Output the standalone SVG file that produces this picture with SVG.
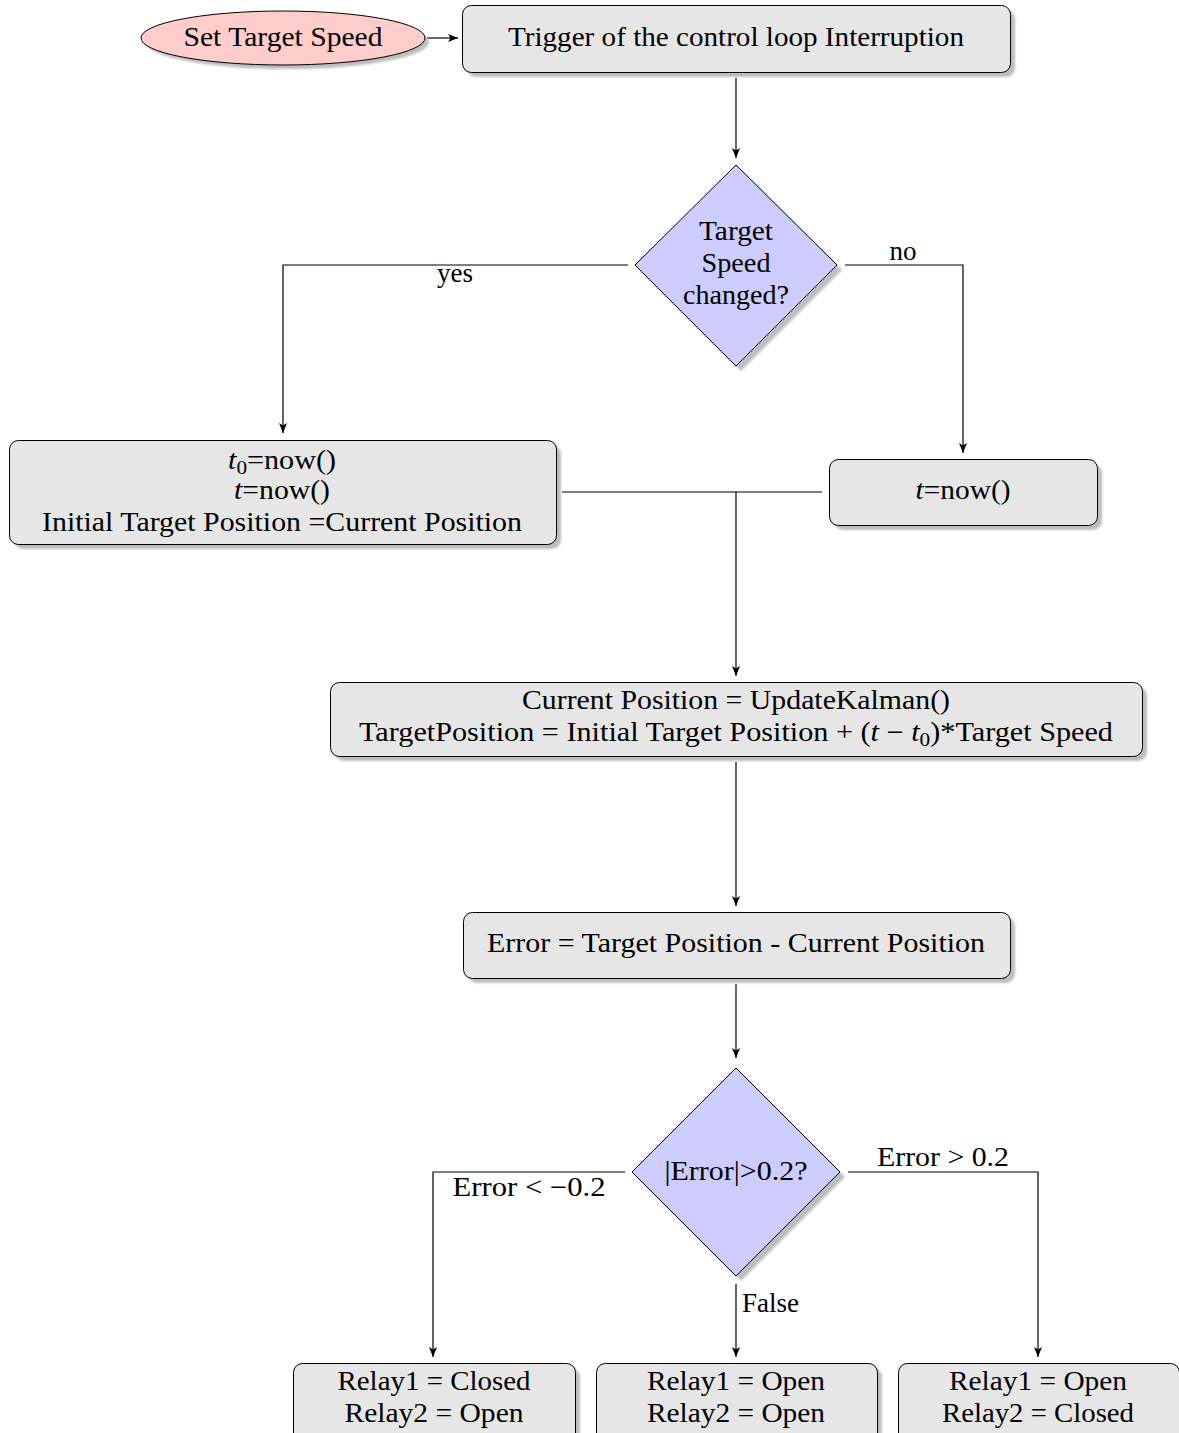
<svg xmlns="http://www.w3.org/2000/svg" width="1179" height="1433" viewBox="0 0 1179 1433">
  <defs>
    <marker id="arrow" viewBox="0 0 10 8" refX="10" refY="4" markerWidth="10" markerHeight="8" markerUnits="userSpaceOnUse" orient="auto">
      <path d="M0,0 L10,4 L0,8 L2.5,4 Z" fill="#000"/>
    </marker>
    <filter id="soft" x="-5%" y="-5%" width="110%" height="110%">
      <feGaussianBlur stdDeviation="0.8"/>
    </filter>
  </defs>
  <style>
    text { font-family: "Liberation Serif", "DejaVu Serif", serif; font-size: 27px; fill: #000; text-anchor: middle; }
    .lbl { text-anchor: start; }
    .box { fill: #e6e6e6; stroke: #000; stroke-width: 1; }
    .start { fill: #ffcccc; stroke: #000; stroke-width: 1; }
    .dec { fill: #ccccff; stroke: #000; stroke-width: 1; }
    .shadow { fill: #bdbdbd; stroke: none; filter: url(#soft); }
    .edge { fill: none; stroke: #000; stroke-width: 1.2; }
    .arr { marker-end: url(#arrow); }
    .m { font-style: italic; }
    .sub { font-size: 19px; }
  </style>

  <rect width="1179" height="1433" fill="#fff"/>

  <!-- connectors -->
  <g id="connectors">
    <path class="edge arr" d="M427,38 H458"/>
    <path class="edge arr" d="M736,78 V158"/>
    <path class="edge arr" d="M628,265 H283 V433"/>
    <path class="edge arr" d="M845,265 H963 V453"/>
    <path class="edge" d="M562,492 H822"/>
    <path class="edge arr" d="M736,492 V676"/>
    <path class="edge arr" d="M736,762 V906"/>
    <path class="edge arr" d="M736,984 V1058"/>
    <path class="edge arr" d="M625,1172 H433 V1357"/>
    <path class="edge arr" d="M848,1172 H1038 V1357"/>
    <path class="edge arr" d="M736,1284 V1357"/>
    <text x="455" y="282" textLength="36" lengthAdjust="spacingAndGlyphs">yes</text>
    <text x="903" y="260" textLength="27" lengthAdjust="spacingAndGlyphs">no</text>
    <text x="529" y="1196" textLength="153" lengthAdjust="spacingAndGlyphs">Error &lt; −0.2</text>
    <text x="943" y="1166" textLength="132" lengthAdjust="spacingAndGlyphs">Error &gt; 0.2</text>
    <text class="lbl" x="742" y="1312" textLength="57" lengthAdjust="spacingAndGlyphs">False</text>
  </g>

  <!-- start ellipse -->
  <g id="set-target-speed">
    <ellipse class="shadow" cx="287" cy="42" rx="142" ry="27"/>
    <ellipse class="start" cx="283" cy="38" rx="142" ry="27"/>
    <text x="283" y="46" textLength="199" lengthAdjust="spacingAndGlyphs">Set Target Speed</text>
  </g>

  <g id="trigger">
    <rect class="shadow" x="467" y="10" width="548" height="67" rx="9"/>
    <rect class="box" x="462.5" y="5.5" width="548" height="67" rx="9"/>
    <text x="736" y="46" textLength="456" lengthAdjust="spacingAndGlyphs">Trigger of the control loop Interruption</text>
  </g>

  <g id="speed-changed">
    <polygon class="shadow" points="741,170 842,270 741,371 640,270"/>
    <polygon class="dec" points="736,165 837,265 736,366 635,265"/>
    <text x="736" y="240" textLength="74" lengthAdjust="spacingAndGlyphs">Target</text>
    <text x="736" y="272" textLength="69" lengthAdjust="spacingAndGlyphs">Speed</text>
    <text x="736" y="304" textLength="106" lengthAdjust="spacingAndGlyphs">changed?</text>
  </g>

  <g id="init-times">
    <rect class="shadow" x="14" y="445" width="547" height="104" rx="9"/>
    <rect class="box" x="9.5" y="440.5" width="547" height="104" rx="9"/>
    <text x="282" y="469" textLength="108" lengthAdjust="spacingAndGlyphs"><tspan class="m">t</tspan><tspan class="sub" dy="5">0</tspan><tspan dy="-5">=now()</tspan></text>
    <text x="282" y="499" textLength="96" lengthAdjust="spacingAndGlyphs"><tspan class="m">t</tspan>=now()</text>
    <text x="282" y="531" textLength="480" lengthAdjust="spacingAndGlyphs">Initial Target Position =Current Position</text>
  </g>

  <g id="update-time">
    <rect class="shadow" x="834" y="464" width="268" height="66" rx="9"/>
    <rect class="box" x="829.5" y="459.5" width="268" height="66" rx="9"/>
    <text x="963" y="499" textLength="95" lengthAdjust="spacingAndGlyphs"><tspan class="m">t</tspan>=now()</text>
  </g>

  <g id="kalman">
    <rect class="shadow" x="335" y="687" width="812" height="74" rx="9"/>
    <rect class="box" x="330.5" y="682.5" width="812" height="74" rx="9"/>
    <text x="736" y="709" textLength="428" lengthAdjust="spacingAndGlyphs">Current Position = UpdateKalman()</text>
    <text x="736" y="741" textLength="754" lengthAdjust="spacingAndGlyphs">TargetPosition = Initial Target Position + (<tspan class="m">t</tspan> − <tspan class="m">t</tspan><tspan class="sub" dy="5">0</tspan><tspan dy="-5">)*Target Speed</tspan></text>
  </g>

  <g id="error">
    <rect class="shadow" x="468" y="917" width="547" height="66" rx="9"/>
    <rect class="box" x="463.5" y="912.5" width="547" height="66" rx="9"/>
    <text x="736" y="952" textLength="498" lengthAdjust="spacingAndGlyphs">Error = Target Position - Current Position</text>
  </g>

  <g id="error-check">
    <polygon class="shadow" points="741,1073 845,1177 741,1281 637,1177"/>
    <polygon class="dec" points="736,1068 840,1172 736,1276 632,1172"/>
    <text x="736" y="1180" textLength="143" lengthAdjust="spacingAndGlyphs">|Error|&gt;0.2?</text>
  </g>

  <g id="relay-low">
    <rect class="shadow" x="298" y="1368" width="282" height="80" rx="9"/>
    <rect class="box" x="293.5" y="1363.5" width="282" height="80" rx="9"/>
    <text x="434" y="1390" textLength="193" lengthAdjust="spacingAndGlyphs">Relay1 = Closed</text>
    <text x="434" y="1422" textLength="179" lengthAdjust="spacingAndGlyphs">Relay2 = Open</text>
  </g>

  <g id="relay-off">
    <rect class="shadow" x="601" y="1368" width="281" height="80" rx="9"/>
    <rect class="box" x="596.5" y="1363.5" width="281" height="80" rx="9"/>
    <text x="736" y="1390" textLength="178" lengthAdjust="spacingAndGlyphs">Relay1 = Open</text>
    <text x="736" y="1422" textLength="178" lengthAdjust="spacingAndGlyphs">Relay2 = Open</text>
  </g>

  <g id="relay-high">
    <rect class="shadow" x="903" y="1368" width="281" height="80" rx="9"/>
    <rect class="box" x="898.5" y="1363.5" width="281" height="80" rx="9"/>
    <text x="1038" y="1390" textLength="178" lengthAdjust="spacingAndGlyphs">Relay1 = Open</text>
    <text x="1038" y="1422" textLength="192" lengthAdjust="spacingAndGlyphs">Relay2 = Closed</text>
  </g>
</svg>
